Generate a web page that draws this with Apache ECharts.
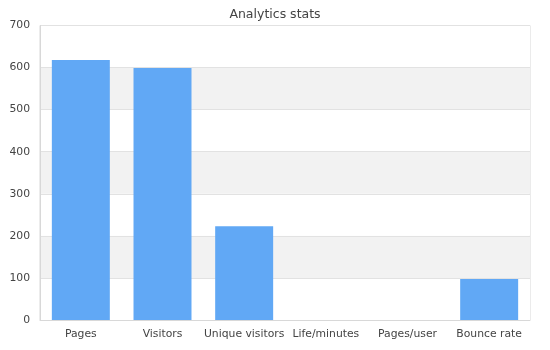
<!DOCTYPE html>
<html>
<head>
<meta charset="utf-8">
<script src="https://cdn.jsdelivr.net/npm/echarts@6/dist/echarts.min.js"></script>
<style>html,body{margin:0;padding:0;background:#fff}#c{width:550px;height:350px}</style>
</head>
<body>
<div id="c"></div>
<script>
var categories = ['Pages', 'Visitors', 'Unique visitors', 'Life/minutes', 'Pages/user', 'Bounce rate'];
var values = [618, 599, 223, 0.05, 0.05, 97.5];
var yTicks = [0, 100, 200, 300, 400, 500, 600, 700];

var chart = echarts.init(document.getElementById('c'), null, {renderer: 'canvas'});
chart.setOption({
  animation: false,
  backgroundColor: '#ffffff',
  title: {
    text: 'Analytics stats',
    left: 'center',
    top: 3,
    textStyle: {fontFamily: 'DejaVu Sans', fontSize: 12.5, fontWeight: 'normal', color: '#444'}
  },
  grid: {left: 40, right: 20, top: 25.5, bottom: 30, show: true, borderColor: '#d8d8d8', borderWidth: 1, backgroundColor: 'transparent'},
  xAxis: {
    type: 'category',
    data: categories,
    axisLine: {show: true, lineStyle: {color: '#d8d8d8'}},
    axisTick: {show: false},
    axisLabel: {color: '#444', fontFamily: 'DejaVu Sans', fontSize: 10.8, margin: 9, interval: 0}
  },
  yAxis: {
    type: 'value',
    min: yTicks[0],
    max: yTicks[yTicks.length - 1],
    interval: 100,
    axisLine: {show: true, lineStyle: {color: '#d8d8d8'}},
    axisTick: {show: false},
    axisLabel: {color: '#444', fontFamily: 'DejaVu Sans', fontSize: 10.8, margin: 10},
    splitLine: {show: true, lineStyle: {color: '#e2e2e2'}},
    splitArea: {show: true, areaStyle: {color: ['#ffffff', '#f2f2f2']}}
  },
  series: [{
    type: 'bar',
    data: values,
    barWidth: '71%',
    itemStyle: {color: '#61a8f5'}
  }]
});
</script>
</body>
</html>
